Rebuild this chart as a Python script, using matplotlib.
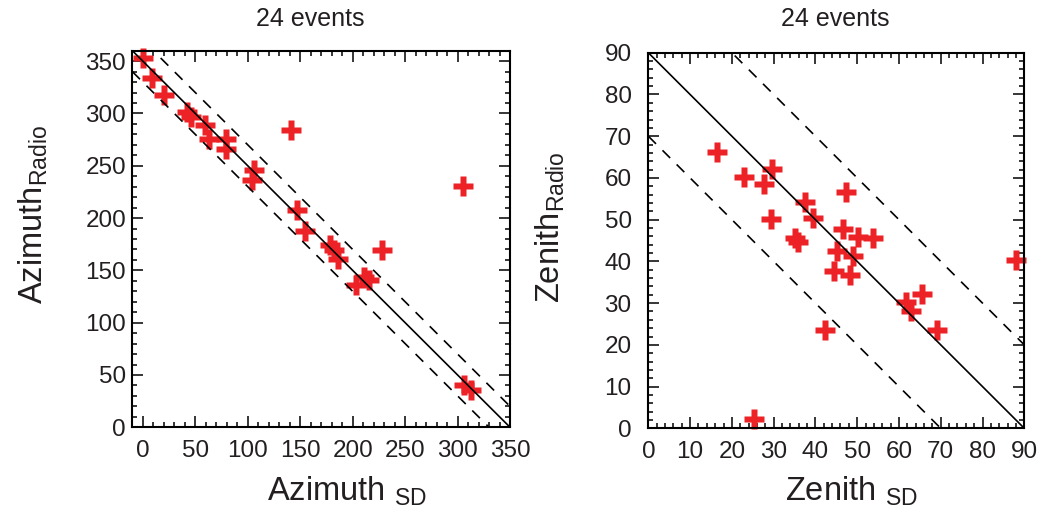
import matplotlib; matplotlib.use("Agg")
import matplotlib.pyplot as plt
from matplotlib.ticker import MultipleLocator

plt.rcParams['font.family'] = ['Liberation Sans', 'DejaVu Sans']

TITLE = "24 events"
# azimuth comparison (degrees)
az_sd = [0, 9.2, 20.3, 42, 46, 59.4, 63.2, 79.1, 79.1, 103.7, 106, 140.8,
         147.3, 154.5, 178, 182.4, 185.6, 203.1, 211, 215.7, 227.5, 304.8, 306.3, 312.7]
az_radio = [353.3, 334.2, 317.4, 301, 297, 288.8, 275.5, 276, 266, 236.4, 246, 284.2,
            207.7, 188, 173.8, 169, 161.1, 135.7, 143.6, 140.4, 169.3, 230.7, 40.3, 35.6]
# zenith comparison (degrees)
zen_sd = [16.4, 23.0, 27.6, 29.6, 29.3, 35.1, 35.9, 37.5, 39.4, 47.4, 46.7, 50.1,
          53.7, 45.1, 49.1, 44.5, 48.3, 61.8, 63.0, 65.4, 69.2, 42.2, 25.2, 88.0]
zen_radio = [66.1, 60.2, 58.6, 62.2, 50.2, 45.5, 44.6, 54.2, 50.4, 56.7, 47.8, 45.9,
             45.7, 42.5, 41.4, 37.7, 36.7, 30.3, 28.1, 32.1, 23.5, 23.6, 2.3, 40.4]

az_sum, zen_sum = 350, 90      # expected relation: radio = sum - sd
band = 20                      # dashed band half-width

RED = '#EC2227'
TXT = '#231F20'

fig = plt.figure(figsize=(10.42, 5.14), dpi=100)
axL = fig.add_axes([0.127, 0.1687, 0.3625, 0.7327])
axR = fig.add_axes([0.6222, 0.1667, 0.3608, 0.7307])

def panel(ax, xs, ys, xlim, ylim, s, major, minor, ypad):
    ax.plot(xs, ys, ls='none', marker='P', ms=14, mfc=RED, mec='none', zorder=2, clip_on=False)
    xx = [xlim[0], xlim[1]]
    ax.plot(xx, [s - v for v in xx], color='k', lw=1.2, zorder=3)
    for off in (band, -band):
        ax.plot(xx, [s + off - v for v in xx], color='k', lw=1.2, dashes=(6.5, 5.5), zorder=3)
    ax.set_xlim(*xlim); ax.set_ylim(*ylim)
    ax.xaxis.set_major_locator(MultipleLocator(major))
    ax.yaxis.set_major_locator(MultipleLocator(major))
    ax.xaxis.set_minor_locator(MultipleLocator(minor))
    ax.yaxis.set_minor_locator(MultipleLocator(minor))
    ax.tick_params(which='both', direction='in', top=True, right=True, width=1.1, colors='k',
                   labelcolor=TXT, labelsize=17.5)
    ax.tick_params(which='major', length=8)
    ax.tick_params(which='minor', length=3.8)
    ax.tick_params(axis='x', pad=9)
    ax.tick_params(axis='y', pad=ypad)
    for sp in ax.spines.values():
        sp.set_linewidth(1.5)

panel(axL, az_sd, az_radio, (-10, 350), (0, 360), az_sum, 50, 10, 4.5)
panel(axR, zen_sd, zen_radio, (0, 90), (0, 90), zen_sum, 10, 2, 12)

fig.text(310/1042, 1 - 19/514, TITLE, ha='center', va='center', fontsize=18, color=TXT)
fig.text(835/1042, 1 - 19/514, TITLE, ha='center', va='center', fontsize=18, color=TXT)

fig.text(347/1042, 1 - 491/514, r'Azimuth $_{\mathregular{SD}}$', ha='center', va='center',
         fontsize=23.5, color=TXT)
fig.text(851/1042, 1 - 491/514, r'Zenith $_{\mathregular{SD}}$', ha='center', va='center',
         fontsize=23.5, color=TXT)
fig.text(33/1042, 1 - 215/514, r'Azimuth$_{\mathregular{Radio}}$', ha='center', va='center',
         rotation=90, fontsize=23.5, color=TXT)
fig.text(550/1042, 1 - 227/514, r'Zenith$_{\mathregular{Radio}}$', ha='center', va='center',
         rotation=90, fontsize=23.5, color=TXT)

fig.savefig("out.png", dpi=100)
